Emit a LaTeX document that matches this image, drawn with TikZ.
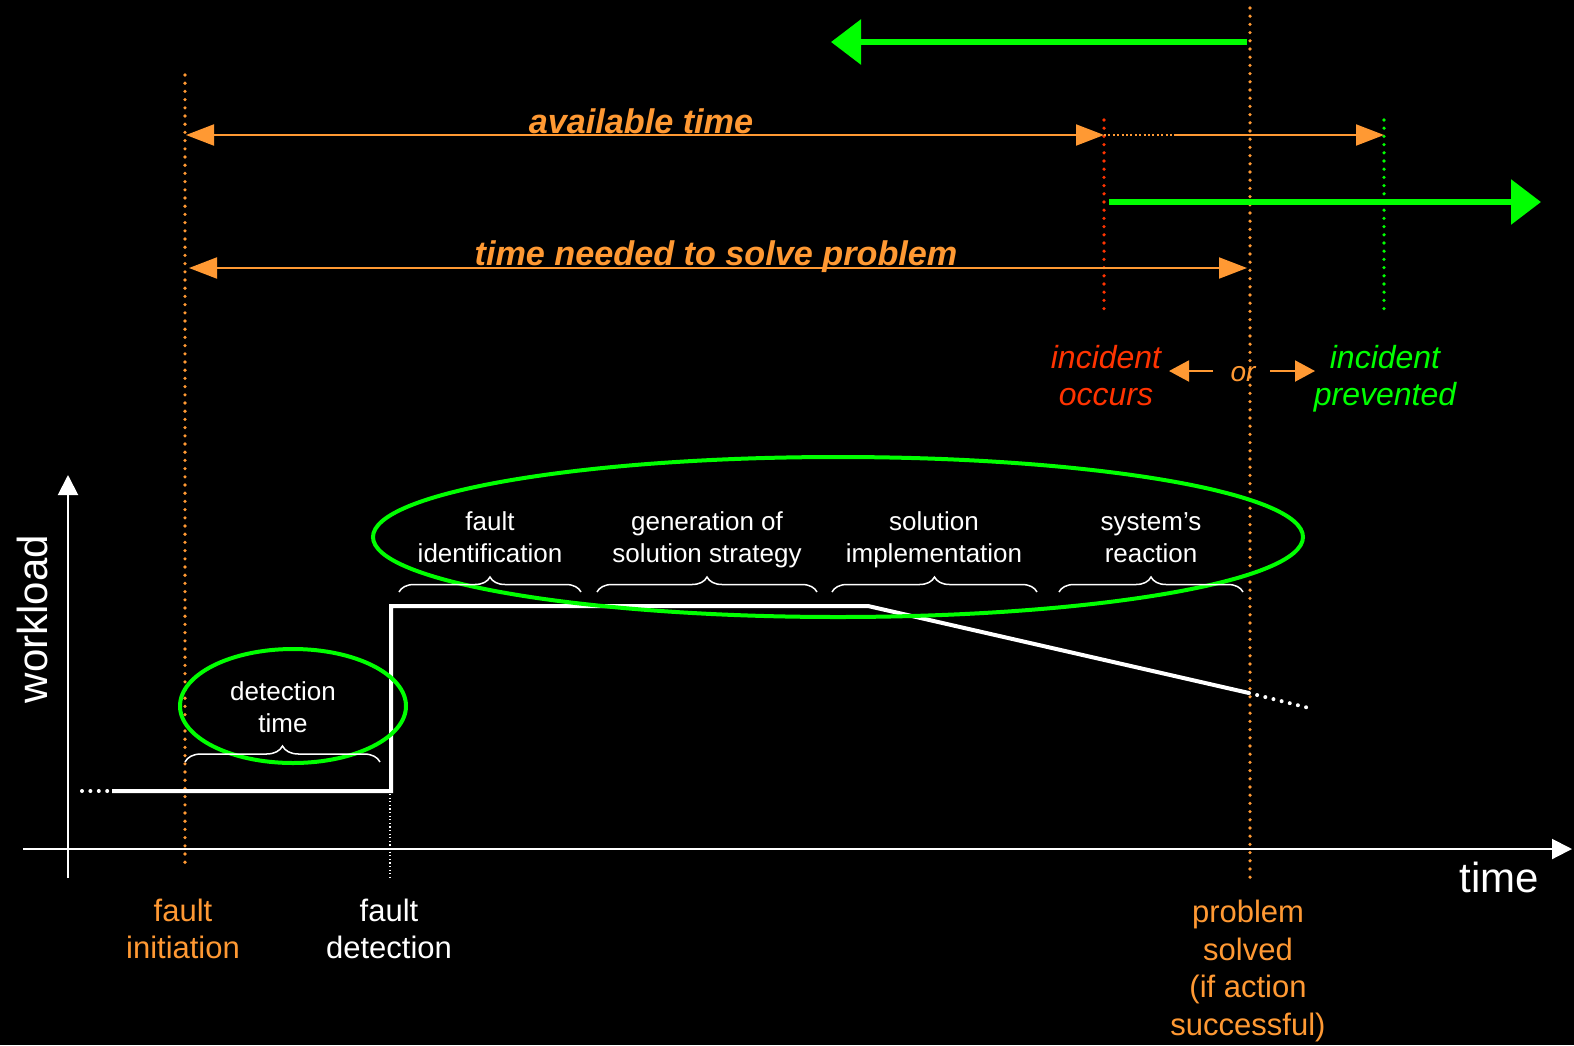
\documentclass[tikz,border=0pt]{standalone}
\usepackage{fontspec}
\setmainfont{Liberation Sans}
\usetikzlibrary{arrows.meta,decorations.pathreplacing}
\definecolor{aorange}{RGB}{255,153,51}
\definecolor{agreen}{RGB}{0,255,0}
\definecolor{ared}{RGB}{255,51,0}
\begin{document}
\begin{tikzpicture}[x=0.5pt,y=-0.5pt,
  odot/.style={line width=1.8pt,dash pattern=on 0pt off 4.1pt,line cap=round},
  wdot/.style={white,line width=2pt,dash pattern=on 0pt off 4.2pt,line cap=round},
  oarrow/.style={aorange,line width=1pt,-{Triangle[length=14pt,width=10.5pt]}},
  oarrowb/.style={aorange,line width=1pt,{Triangle[length=14pt,width=10.5pt]}-{Triangle[length=14pt,width=10.5pt]}},
  orarrow/.style={aorange,line width=1pt,-{Triangle[length=10pt,width=10.5pt]}},
  garrow/.style={agreen,line width=3pt,-{Triangle[length=15pt,width=22pt]}},
  warrow/.style={white,line width=1pt,-{Triangle[length=10pt,width=10pt]}},
  wbrace/.style={white,line width=0.75pt,decorate,decoration={brace,amplitude=#1}},
  bigtxt/.style={font=\fontsize{15.5pt}{18.75pt}\selectfont,align=center,inner sep=0pt},
  smalltxt/.style={font=\fontsize{13pt}{16pt}\selectfont,align=center,text=white,inner sep=0pt},
  titletxt/.style={font=\fontsize{17.1pt}{20pt}\selectfont\bfseries\itshape,text=aorange,anchor=base,inner sep=0pt},
  inctxt/.style={font=\fontsize{16pt}{18.5pt}\selectfont\itshape,align=center,inner sep=0pt},
  axtxt/.style={font=\fontsize{21pt}{24pt}\selectfont,text=white,inner sep=0pt},
]
\fill[black] (0,0) rectangle (1574,1045);
\useasboundingbox (0,0) rectangle (1574,1045);

% key coordinates
\coordinate (fiT) at (185,75);   \coordinate (fiB) at (185,870);
\coordinate (psT) at (1250,8);   \coordinate (psB) at (1250,878);
\coordinate (ioT) at (1104,120); \coordinate (ioB) at (1104,313);
\coordinate (ipT) at (1384,120); \coordinate (ipB) at (1384,313);
\coordinate (gaS) at (1247,42);  \coordinate (gaE) at (831,42);
\coordinate (gbS) at (1109,202); \coordinate (gbE) at (1541,202);
\coordinate (atL) at (186,135);  \coordinate (atM) at (1104,135);
\coordinate (atD) at (1176,135); \coordinate (atR) at (1384,135);
\coordinate (tnL) at (189,268);  \coordinate (tnR) at (1247,268);
\coordinate (yB) at (68,878);    \coordinate (yT) at (68,475);
\coordinate (xL) at (23,849);    \coordinate (xR) at (1572,849);
\coordinate (w0) at (82,791);    \coordinate (w1) at (112,791);
\coordinate (w2) at (391,791);   \coordinate (w3) at (391,606);
\coordinate (w4) at (868,606);   \coordinate (w5) at (1249,693);
\coordinate (w6) at (1309,708);
\coordinate (fdT) at (390,794);  \coordinate (fdB) at (390,877);

% vertical dotted markers
\draw[odot,aorange] (fiT) -- (fiB);
\draw[odot,aorange] (psT) -- (psB);
\draw[odot,ared] (ioT) -- (ioB);
\draw[odot,agreen] (ipT) -- (ipB);

% green arrows
\draw[garrow] (gaS) -- (gaE);
\draw[garrow] (gbS) -- (gbE);

% available time
\draw[oarrowb] (atL) -- (atM);
\draw[aorange,line width=1pt,dash pattern=on 1pt off 1.2pt] (atM) -- (atD);
\draw[oarrow] (atD) -- (atR);
\node[titletxt] (lat) at (641,133) {available time};

% time needed
\draw[oarrowb] (tnL) -- (tnR);
\node[titletxt] (ltn) at (716,265) {time needed to solve problem};

% incident labels
\node[inctxt,text=ared] (iocc) at (1106,380) {\strut incident\\\strut occurs};
\node[inctxt,text=agreen] (iprev) at (1385,380) {\strut incident\\\strut prevented};
\node[font=\fontsize{14pt}{16pt}\selectfont\itshape,text=aorange,inner sep=0pt] (lor) at (1243,374) {or};
\coordinate (oLs) at (1213,371); \coordinate (oLe) at (1169,371);
\coordinate (oRs) at (1270,371); \coordinate (oRe) at (1315,371);
\draw[orarrow] (oLs) -- (oLe);
\draw[orarrow] (oRs) -- (oRe);

% axes
\draw[warrow] (yB) -- (yT);
\draw[warrow] (xL) -- (xR);
\node[axtxt,rotate=90] (lwl) at (32,619) {workload};
\node[axtxt] (ltime) at (1499,877) {time};

% workload curve
\draw[wdot] (w0) -- (108,791);
\draw[white,line width=2pt,line join=miter] (w1) -- (w2) -- (w3) -- (w4) -- (w5);
\draw[wdot] (w5) -- (w6);
\draw[white,line width=0.6pt,dash pattern=on 0.6pt off 1.2pt] (fdT) -- (fdB);

% ellipses
\draw[agreen,line width=2pt] (293,706) ellipse [x radius=56.5pt, y radius=28.5pt];
\draw[agreen,line width=2pt] (838,537) ellipse [x radius=232.5pt, y radius=40pt];

% detection time
\node[smalltxt] (ldt) at (283,707) {detection\\time};
\draw[wbrace=8pt] (185,762) -- (380,762);

% phase labels
\node[smalltxt] (p1) at (490,540) {\strut fault\\\strut identification};
\node[smalltxt] (p2) at (707,540) {\strut generation of\\\strut solution strategy};
\node[smalltxt] (p3) at (934,540) {\strut solution\\\strut implementation};
\node[smalltxt] (p4) at (1151,540) {\strut system’s\\\strut reaction};
\draw[wbrace=7.5pt] (399,592) -- (581,592);
\draw[wbrace=7.5pt] (597,592) -- (817,592);
\draw[wbrace=7.5pt] (832,592) -- (1037,592);
\draw[wbrace=7.5pt] (1059,592) -- (1243,592);

% bottom labels
\node[bigtxt,text=aorange] (lfi) at (183,929) {fault\\initiation};
\node[bigtxt,text=white] (lfd) at (389,929) {fault\\detection};
\node[bigtxt,text=aorange,anchor=north] (lps) at (1248,900) {problem\\solved\\(if action\\successful)};
\end{tikzpicture}
\end{document}
